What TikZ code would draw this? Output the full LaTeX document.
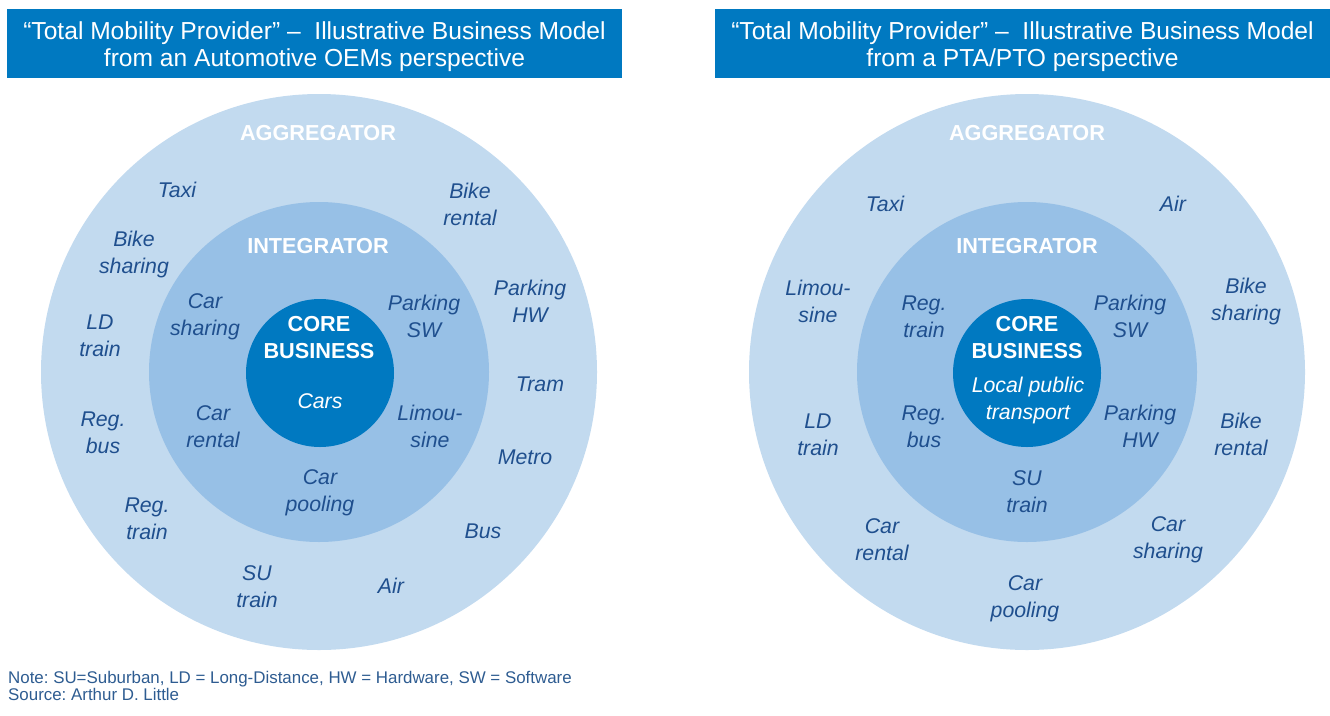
\documentclass[tikz,border=0pt]{standalone}
\usepackage{fontspec}
\setmainfont{Liberation Sans}
\usetikzlibrary{positioning}
\definecolor{adlblue}{HTML}{0079C1}
\definecolor{ringout}{HTML}{C2DAEF}
\definecolor{ringmid}{HTML}{97C0E6}
\definecolor{labelblue}{HTML}{1F4F8E}
\definecolor{noteblue}{HTML}{2E5C91}
\tikzset{%
   titlebox/.style={
      fill=adlblue,
      minimum width=615pt,
      minimum height=69pt,
      inner sep=0pt
   },
   titletext/.style={
      text=white,
      inner sep=0pt,
      align=center,
      yshift=-3.5pt,
      font=\fontsize{24.6}{27}\selectfont
   },
   aggring/.style={
      circle, fill=ringout, minimum size=556pt, inner sep=0pt
   },
   intring/.style={
      circle, fill=ringmid, minimum size=340pt, inner sep=0pt
   },
   corering/.style={
      circle, fill=adlblue, minimum size=148pt, inner sep=0pt
   },
   head/.style={
      text=white, inner sep=0pt, align=center,
      font=\fontsize{21.7}{27}\selectfont\bfseries
   },
   mode/.style={
      text=labelblue, inner sep=0pt, align=center, yshift=-2pt,
      font=\fontsize{21.3}{27}\selectfont\itshape
   },
   coremode/.style={
      mode, text=white
   },
   note/.style={
      text=noteblue, inner sep=0pt, align=left,
      font=\fontsize{16.9}{17}\selectfont\frenchspacing
   },
}

\begin{document}
\begin{tikzpicture}[x=1pt, y=-1pt]
   \useasboundingbox (0,0) rectangle (1330,715);
   % titles
   \node[titlebox] (titleL) at (314.5,43.5) {};
   \node[titletext] (titleLtext) at (titleL.center) {``Total Mobility Provider'' --\ \ Illustrative Business Model\\from an Automotive OEMs perspective};
   \node[titlebox] (titleR) at (1022.5,43.5) {};
   \node[titletext] (titleRtext) at (titleR.center) {``Total Mobility Provider'' --\ \ Illustrative Business Model\\from a PTA/PTO perspective};

   % left: OEM view
   \node[aggring] (aggL) at (319,372) {};
   \node[intring] (intL) at (319,372) {};
   \node[corering] (coreL) at (320,373) {};
   \node[head] (aggLh) at (318,133.5) {AGGREGATOR};
   \node[head] (intLh) at (318,246.5) {INTEGRATOR};
   \node[head] (coreLh) at (319,338) {CORE\\BUSINESS};
   \node[coremode] (cars) at (320,399) {Cars};
   \node[mode] (carshareL) at (205,314.5) {Car\\sharing};
   \node[mode] (parkswL) at (424,314.5) {Parking\\SW};
   \node[mode] (carrentL) at (213,424.5) {Car\\rental};
   \node[mode] (limoL) at (430,424.5) {Limou-\\sine};
   \node[mode] (carpoolL) at (320,490.5) {Car\\pooling};
   \node[mode] (taxiL) at (177,188) {Taxi};
   \node[mode] (bikerentL) at (470,202.5) {Bike\\rental};
   \node[mode] (bikeshareL) at (134,252.5) {Bike\\sharing};
   \node[mode] (parkhwL) at (530,299.5) {Parking\\HW};
   \node[mode] (ldtrainL) at (100,333.5) {LD\\train};
   \node[mode] (tramL) at (540,382) {Tram};
   \node[mode] (regbusL) at (103,430.5) {Reg.\\bus};
   \node[mode] (metroL) at (525,455) {Metro};
   \node[mode] (regtrainL) at (147,516.5) {Reg.\\train};
   \node[mode] (busL) at (483,529) {Bus};
   \node[mode] (sutrainL) at (257,584.5) {SU\\train};
   \node[mode] (airL) at (391,584) {Air};

   % right: PTA/PTO view
   \node[aggring] (aggR) at (1027,372) {};
   \node[intring] (intR) at (1027,372) {};
   \node[corering] (coreR) at (1027,373) {};
   \node[head] (aggRh) at (1027,133.5) {AGGREGATOR};
   \node[head] (intRh) at (1027,246.5) {INTEGRATOR};
   \node[head] (coreRh) at (1027,338) {CORE\\BUSINESS};
   \node[coremode] (lpt) at (1028,398.5) {Local public\\transport};
   \node[mode] (regtrainR) at (924,314.5) {Reg.\\train};
   \node[mode] (parkswR) at (1130,314.5) {Parking\\SW};
   \node[mode] (regbusR) at (924,424.5) {Reg.\\bus};
   \node[mode] (parkhwR) at (1140,424.5) {Parking\\HW};
   \node[mode] (sutrainR) at (1027,489.5) {SU\\train};
   \node[mode] (taxiR) at (885,202) {Taxi};
   \node[mode] (airR) at (1173,202) {Air};
   \node[mode] (limoR) at (818,299.5) {Limou-\\sine};
   \node[mode] (bikeshareR) at (1246,299.5) {Bike\\sharing};
   \node[mode] (ldtrainR) at (818,432.5) {LD\\train};
   \node[mode] (bikerentR) at (1241,432.5) {Bike\\rental};
   \node[mode] (carrentR) at (882,537.5) {Car\\rental};
   \node[mode] (carshareR) at (1168,537.5) {Car\\sharing};
   \node[mode] (carpoolR) at (1025,596.5) {Car\\pooling};

   % footnote
   \node[note, anchor=west] (notes) at (8,685.5) {Note: SU=Suburban, LD = Long-Distance, HW = Hardware, SW = Software\\Source: Arthur D. Little};
\end{tikzpicture}
\end{document}
